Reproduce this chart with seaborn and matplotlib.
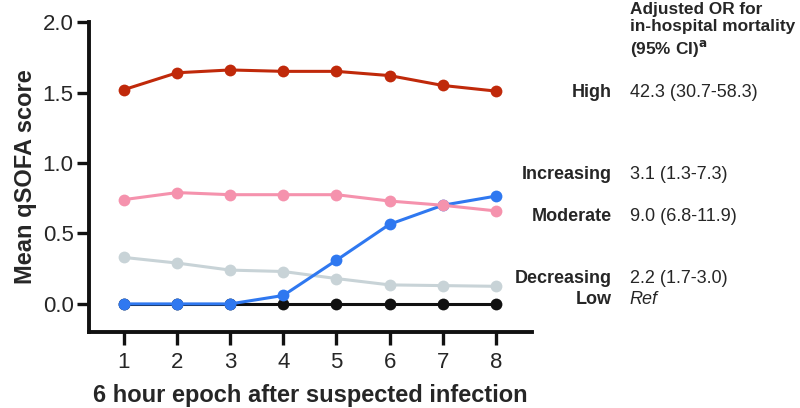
import matplotlib
matplotlib.use('Agg')
import matplotlib.pyplot as plt
import matplotlib.transforms as mtransforms
import pandas as pd
import seaborn as sns

epochs = [1, 2, 3, 4, 5, 6, 7, 8]
high = [1.52, 1.64, 1.66, 1.65, 1.65, 1.62, 1.55, 1.51]
moderate = [0.74, 0.79, 0.775, 0.775, 0.775, 0.73, 0.70, 0.66]
increasing = [0.0, 0.0, 0.0, 0.06, 0.31, 0.565, 0.70, 0.765]
decreasing = [0.33, 0.29, 0.24, 0.23, 0.18, 0.135, 0.13, 0.125]
low = [0.0, 0.0, 0.0, 0.0, 0.0, 0.0, 0.0, 0.0]

groups = ['High', 'Increasing', 'Moderate', 'Decreasing', 'Low']
or_text = ['42.3 (30.7-58.3)', '3.1 (1.3-7.3)', '9.0 (6.8-11.9)', '2.2 (1.7-3.0)', 'Ref']
label_y = [1.50, 0.915, 0.617, 0.177, 0.03]

COLOURS = {
    'High': '#c0290a',
    'Moderate': '#f592ad',
    'Increasing': '#2f78f0',
    'Decreasing': '#c8d3d7',
    'Low': '#111111',
}

series = {'High': high, 'Moderate': moderate, 'Increasing': increasing,
          'Decreasing': decreasing, 'Low': low}
df = pd.concat([pd.DataFrame({'epoch': epochs, 'score': v, 'group': k})
                for k, v in series.items()], ignore_index=True)

sns.set_style('ticks')
plt.rcParams['font.family'] = ['Liberation Sans', 'DejaVu Sans']

fig = plt.figure(figsize=(8, 4.08), dpi=100)
ax = fig.add_axes([0.111, 0.186, 0.554, 0.76])

sns.lineplot(data=df, x='epoch', y='score', hue='group',
             hue_order=['Low', 'Decreasing', 'Increasing', 'Moderate', 'High'],
             palette=COLOURS, marker='o', markersize=8.5, markeredgewidth=0,
             linewidth=2.2, legend=False, ax=ax)

ax.set_xlim(0.34, 8.68)
ax.set_ylim(-0.2, 2.0)
ax.set_xticks(epochs)
ax.set_yticks([0.0, 0.5, 1.0, 1.5, 2.0])
ax.set_yticklabels(['0.0', '0.5', '1.0', '1.5', '2.0'])
ax.tick_params(axis='both', labelsize=16, width=2.4, length=9, color='#111111')
ax.tick_params(axis='x', pad=5)
ax.tick_params(axis='y', pad=2)
for side in ['left', 'bottom']:
    ax.spines[side].set_linewidth(2.8)
    ax.spines[side].set_color('#111111')
sns.despine(ax=ax)

ax.set_xlabel('6 hour epoch after suspected infection', fontsize=17,
              fontweight='bold', labelpad=8)
ax.set_ylabel('Mean qSOFA score', fontsize=17, fontweight='bold', labelpad=4)

trans = mtransforms.blended_transform_factory(fig.transFigure, ax.transData)
for g, t, y in zip(groups, or_text, label_y):
    fig.text(0.765, y, g, transform=trans, ha='right', va='center',
             fontsize=13, fontweight='bold')
    fig.text(0.787, y, t, transform=trans, ha='left', va='center',
             fontsize=13, style='italic' if t == 'Ref' else 'normal')

fig.text(0.787, 0.995, 'Adjusted OR for\nin-hospital mortality\n(95% CI)$^{\\mathbf{a}}$',
         ha='left', va='top', fontsize=12.4, fontweight='bold', linespacing=1.2)

fig.savefig('out.png', dpi=100)
